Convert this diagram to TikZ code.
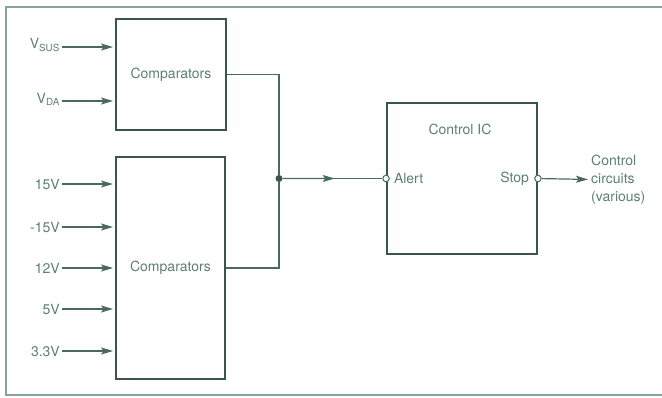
\documentclass[tikz,border=0pt]{standalone}
\usepackage{fontspec}
\setmainfont{TeX Gyre Heros}
\usepackage{xcolor}
\usepackage{tikz}
\usetikzlibrary{arrows.meta,positioning,calc}
\definecolor{boxline}{HTML}{3A554D}
\definecolor{wirecol}{HTML}{4A6A60}
\definecolor{inktext}{HTML}{5C7F73}
\definecolor{framecol}{HTML}{8AA39A}

\begin{document}
\begin{tikzpicture}[
  x=1pt,y=-1pt,
  font=\fontsize{14}{18}\selectfont,
  block/.style={draw=boxline,line width=1.9pt,text=inktext,inner sep=0pt},
  wire/.style={draw=wirecol,line width=1.2pt},
  arr/.style={wire,-{Stealth[length=12pt,width=7pt,inset=2.5pt]}},
  pin/.style={circle,draw=wirecol,fill=white,line width=1pt,inner sep=0pt,minimum size=6.5pt},
  dot/.style={circle,fill=boxline,inner sep=0pt,minimum size=7pt},
  inlabel/.style={anchor=east,text=inktext,inner sep=2pt}
]
\useasboundingbox (0,0) rectangle (662,397);
\draw[draw=framecol,line width=1.4pt] (662,7) -- (6,7) -- (6,395) -- (662,395);

% comparator blocks and control chip
\node[block,minimum width=110pt,minimum height=111pt] (cmpA) at (171,74.5) {Comparators};
\node[block,minimum width=109pt,minimum height=222pt] (cmpB) at (170.5,268) {Comparators};
\node[block,minimum width=150pt,minimum height=151pt] (ctrl) at (462,178.5) {};
\node[text=inktext] (ctrlname) at (460,129) {Control IC};

% rail inputs
\node[inlabel] (vsus) at (62,45) {V\textsubscript{SUS}};
\node[inlabel] (vda) at (62,99) {V\textsubscript{DA}};
\node[inlabel] (p15) at (62,184) {15V};
\node[inlabel] (m15) at (62,227) {-15V};
\node[inlabel] (p12) at (62,268) {12V};
\node[inlabel] (p5) at (62,309) {5V};
\node[inlabel] (p33) at (62,351) {3.3V};

\draw[arr,shorten >=2pt] (vsus.east |- 0,47) -- (cmpA.west |- 0,47);
\draw[arr,shorten >=2pt] (vda.east |- 0,101) -- (cmpA.west |- 0,101);
\draw[arr,shorten >=2pt] (p15) -- (p15 -| cmpB.west);
\draw[arr,shorten >=2pt] (m15) -- (m15 -| cmpB.west);
\draw[arr,shorten >=2pt] (p12) -- (p12 -| cmpB.west);
\draw[arr,shorten >=2pt] (p5) -- (p5 -| cmpB.west);
\draw[arr,shorten >=2pt] (p33) -- (p33 -| cmpB.west);

% wired-or of both comparator outputs
\node[dot] (join) at (279,178.5) {};
\draw[wire] (cmpA.east) -| (join);
\draw[wire] (cmpB.east) -| (join);

% alert in, stop out
\node[pin] (alert) at (ctrl.west) {};
\node[pin] (stop) at (ctrl.east) {};
\node[right=3pt of alert,text=inktext,inner sep=1pt] (alertname) {Alert};
\node[left=4pt of stop,text=inktext,inner sep=1pt] (stopname) {Stop};
\draw[wire] (join) -- (alert);
\draw[arr] (join) -- ($(join)!0.52!(alert)$);

\node[text=inktext,anchor=west,align=left,inner sep=0pt] (out) at (591,180) {Control\\circuits\\(various)};
\draw[arr,shorten >=3pt] (stop) -- (out);
\end{tikzpicture}
\end{document}
